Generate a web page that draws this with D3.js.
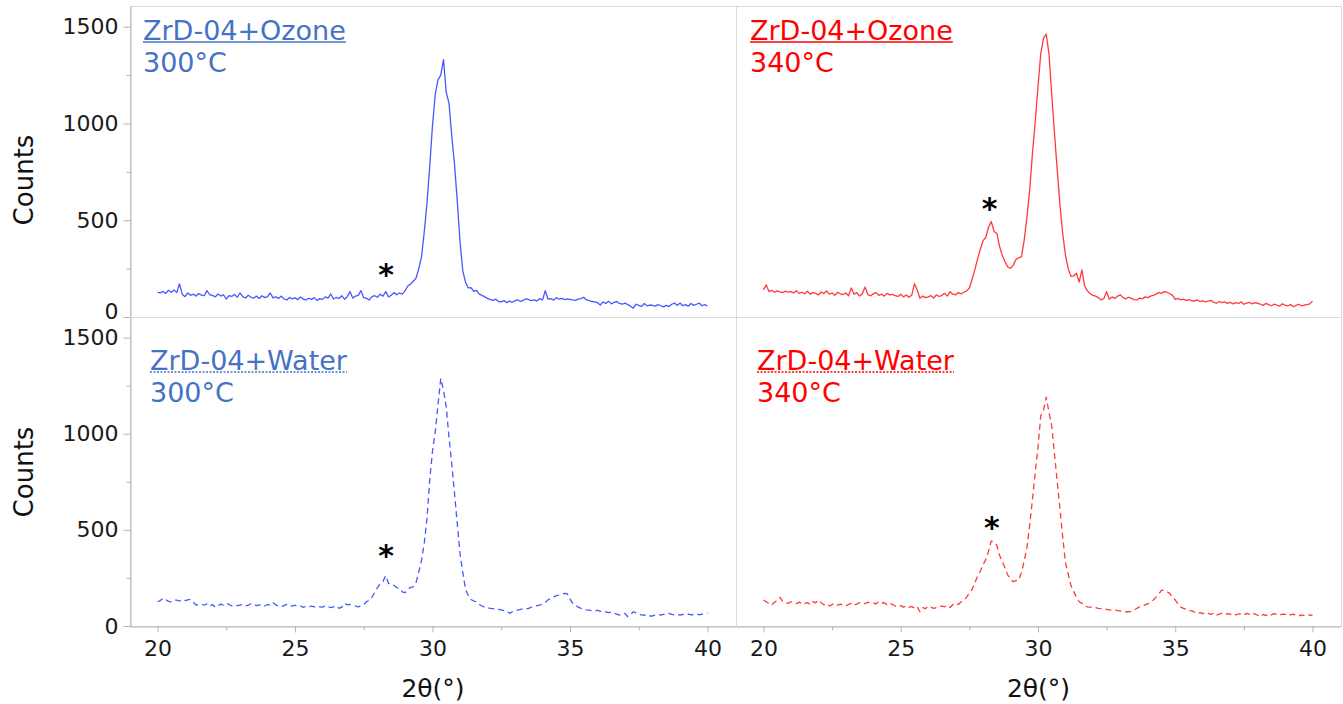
<!DOCTYPE html>
<html>
<head>
<meta charset="utf-8">
<script src="https://cdn.jsdelivr.net/npm/d3@7"></script>
<style>
  body { margin: 0; background: #fff; }
  svg { display: block; font-family: "DejaVu Sans", Verdana, sans-serif; }
  .axis path, .axis line { stroke: #b4b4b4; }
  .axis text { fill: #1a1a1a; font-size: 22px; font-family: "DejaVu Sans", Verdana, sans-serif; }
</style>
</head>
<body>
<script>
'use strict';

// 2θ grid: 20.0 ... 40.0, 0.1° step
const startAngle = 20;
const stepAngle = 0.1;

// counts, one value per 0.1°
const ozone300 = [
  129,125,132,122,138,128,140,126,171,118,
  105,124,112,118,108,121,113,110,136,115,
  112,104,119,108,115,93,110,106,117,102,
  124,105,98,112,102,98,108,96,110,100,
  105,124,99,104,96,108,93,88,101,94,
  99,90,103,92,88,97,91,100,86,95,
  91,104,98,119,93,101,96,110,92,105,
  131,98,108,112,136,100,96,88,105,110,
  102,118,108,131,103,112,126,115,124,118,
  135,160,170,185,200,250,310,440,590,780,
  990,1150,1225,1250,1330,1160,1105,935,790,600,
  390,240,180,150,152,132,138,118,112,104,
  96,90,86,92,80,78,85,74,82,76,
  84,88,80,86,94,90,84,88,83,95,
  88,136,92,95,88,100,92,96,90,94,
  91,88,86,92,95,102,88,84,80,78,
  74,62,78,70,82,68,76,80,70,66,
  72,64,56,46,66,60,55,70,58,62,
  60,56,64,58,52,60,54,66,72,60,
  72,58,64,56,70,60,66,72,58,64,
  57
];

const ozone340 = [
  140,166,132,138,128,135,130,126,134,128,
  131,124,136,122,128,120,133,118,126,122,
  114,129,121,135,118,124,112,128,120,116,
  124,110,150,118,126,108,120,155,116,109,
  120,126,112,118,108,122,114,117,110,106,
  118,104,114,102,112,172,140,97,108,100,
  104,110,98,114,106,112,122,108,131,118,
  115,126,120,128,135,150,195,245,300,350,
  395,412,465,493,441,433,365,318,285,258,
  252,268,298,306,312,400,520,660,850,1010,
  1190,1360,1440,1462,1360,1150,950,760,580,430,
  320,250,210,212,226,180,243,160,135,120,
  112,108,100,88,96,131,92,104,96,108,
  114,100,94,102,96,90,88,98,94,104,
  100,108,112,118,126,122,131,128,120,112,
  91,96,88,92,86,90,84,82,88,80,
  84,78,82,86,76,71,80,74,78,70,
  76,68,74,70,78,66,72,76,68,74,
  71,66,60,70,64,58,66,62,56,68,
  62,58,64,53,60,66,58,62,64,68,
  82
];

const water300 = [
  126,132,144,138,128,126,134,135,130,137,
  132,136,138,124,109,112,114,108,116,104,
  112,97,106,114,108,118,112,104,110,106,
  109,112,104,108,116,114,106,110,104,104,
  112,108,121,110,104,100,106,112,102,104,
  108,100,104,97,102,98,104,100,96,100,
  98,104,100,96,100,104,92,98,118,110,
  112,109,104,100,104,112,126,134,150,175,
  200,221,232,262,222,215,211,200,196,178,
  173,190,201,203,225,280,340,430,560,760,
  910,1010,1150,1288,1225,1140,980,844,690,533,
  377,280,190,160,138,130,126,112,104,97,
  95,92,90,88,87,84,80,76,66,74,
  80,83,86,90,88,92,98,102,106,109,
  115,122,136,144,150,158,161,165,170,168,
  140,118,108,98,92,88,84,83,80,78,
  82,76,78,74,70,72,66,62,57,60,
  66,48,58,74,68,62,58,56,60,52,
  52,58,62,56,60,64,66,60,58,62,
  56,60,57,62,58,60,64,58,62,66,
  66
];

const water340 = [
  135,126,118,109,124,132,149,128,121,118,
  126,120,116,124,114,118,122,112,128,120,
  135,122,110,116,104,112,118,108,114,106,
  104,112,118,108,114,122,121,116,124,118,
  120,114,126,118,121,110,118,112,104,100,
  106,98,104,97,102,92,100,74,96,90,
  104,98,92,96,100,104,100,108,96,112,
  118,112,126,135,150,172,190,225,260,285,
  320,345,390,443,436,420,368,335,300,265,
  245,230,236,239,280,340,410,530,660,800,
  930,1095,1121,1190,1112,1040,896,750,610,463,
  330,270,210,180,150,126,118,104,100,98,
  97,95,92,90,87,86,84,82,83,80,
  78,76,74,74,76,82,92,100,104,110,
  116,124,135,150,166,187,182,178,170,150,
  135,115,98,92,86,80,79,72,66,70,
  64,72,66,60,68,57,62,66,58,64,
  60,66,58,62,64,58,66,60,69,62,
  56,48,60,54,62,58,64,60,56,62,
  60,66,58,62,54,52,58,54,60,56,
  57
];

// panel order: top-left, top-right, bottom-left, bottom-right
const panelSeries = [ozone300, ozone340, water300, water340];
const panelNames = ['ZrD-04+Ozone', 'ZrD-04+Ozone', 'ZrD-04+Water', 'ZrD-04+Water'];
const panelTemps = ['300°C', '340°C', '300°C', '340°C'];
const starAngles = [28.31, 28.24, 28.31, 28.32];
const starCounts = [253, 596, 403, 546];

const yTicks = [0, 500, 1000, 1500];
const yMinorTicks = [250, 750, 1250];
const xTicks = [20, 25, 30, 35, 40];
const xMinorTicks = [22.5, 27.5, 32.5, 37.5];

// layout
const W = 1343, H = 704;
const colX = [[130, 736], [736, 1341]];
const rowY = [[6, 317], [317, 626]];
const xDomain = [19, 41];
const yDomain = [0, 1607];
const lineColors = ['#4858ff', '#ff3a3a'];
const textColors = ['#4472c4', '#ff0000'];
const labelDx = [[13, 14], [20, 21]];
const labelBase = [34, 53];

const svg = d3.select('body').append('svg')
  .attr('width', W)
  .attr('height', H);

panelSeries.forEach((series, i) => {
  const row = i < 2 ? 0 : 1;
  const col = i % 2;
  const [x0, x1] = colX[col];
  const [y0, y1] = rowY[row];

  const x = d3.scaleLinear().domain(xDomain).range([x0, x1 - 1]);
  const y = d3.scaleLinear().domain(yDomain).range([y1, y0]);

  // panel frame
  svg.append('rect')
    .attr('x', x0 + 0.5)
    .attr('y', y0 + 0.5)
    .attr('width', x1 - x0)
    .attr('height', y1 - y0)
    .attr('fill', 'none')
    .attr('stroke', '#dadada');

  const line = d3.line()
    .x((d, k) => x(startAngle + k * stepAngle))
    .y(d => y(d));

  svg.append('path')
    .datum(series)
    .attr('d', line)
    .attr('fill', 'none')
    .attr('stroke', lineColors[col])
    .attr('stroke-width', 1.3)
    .attr('stroke-linejoin', 'round')
    .attr('stroke-dasharray', row === 1 ? '6,4' : null);

  // left axis only on left column
  if (col === 0) {
    const yAxis = svg.append('g')
      .attr('class', 'axis')
      .attr('transform', `translate(${x0 + 0.5},0)`)
      .call(d3.axisLeft(y).tickValues(yTicks).tickFormat(d3.format('d'))
        .tickSize(7).tickSizeOuter(0).tickPadding(5));
    // top panel's "0" sits a little high so it clears the "1500" below
    if (row === 0) {
      yAxis.selectAll('.tick text').filter(d => d === 0).attr('y', -6);
    }
    svg.append('g')
      .attr('class', 'axis')
      .attr('transform', `translate(${x0 + 0.5},0)`)
      .call(d3.axisLeft(y).tickValues(yMinorTicks).tickSize(4).tickFormat('').tickSizeOuter(0))
      .select('.domain').remove();

    svg.append('text')
      .attr('transform', `translate(33,${row === 0 ? 180 : 472}) rotate(-90)`)
      .attr('text-anchor', 'middle')
      .attr('font-size', 26)
      .attr('fill', '#111')
      .text('Counts');
  }

  // bottom axis only on bottom row
  if (row === 1) {
    svg.append('g')
      .attr('class', 'axis')
      .attr('transform', `translate(0,${y1 + 0.5})`)
      .call(d3.axisBottom(x).tickValues(xTicks).tickFormat(d3.format('d'))
        .tickSize(6).tickSizeOuter(0).tickPadding(8));
    svg.append('g')
      .attr('class', 'axis')
      .attr('transform', `translate(0,${y1 + 0.5})`)
      .call(d3.axisBottom(x).tickValues(xMinorTicks).tickSize(4).tickFormat('').tickSizeOuter(0))
      .select('.domain').remove();

    svg.append('text')
      .attr('x', (x0 + x1) / 2)
      .attr('y', 697)
      .attr('text-anchor', 'middle')
      .attr('font-size', 25)
      .attr('fill', '#111')
      .text('2θ(°)');
  }

  // sample label, underlined
  const lx = x0 + labelDx[row][col];
  const ly = y0 + labelBase[row];
  const name = svg.append('text')
    .attr('x', lx)
    .attr('y', ly)
    .attr('font-size', 27)
    .attr('fill', textColors[col])
    .text(panelNames[i]);
  const len = name.node().getComputedTextLength();
  svg.append('line')
    .attr('x1', lx)
    .attr('x2', lx + len)
    .attr('y1', ly + 2)
    .attr('y2', ly + 2)
    .attr('stroke', textColors[col])
    .attr('stroke-width', 1.5)
    .attr('stroke-dasharray', row === 1 ? '2,1.5' : null);

  svg.append('text')
    .attr('x', lx)
    .attr('y', ly + 32)
    .attr('font-size', 27)
    .attr('fill', textColors[col])
    .text(panelTemps[i]);

  // asterisk marking the minor phase peak
  svg.append('text')
    .attr('x', x(starAngles[i]))
    .attr('y', y(starCounts[i]) + 17)
    .attr('text-anchor', 'middle')
    .attr('font-size', 30)
    .attr('font-weight', 'bold')
    .attr('fill', '#000')
    .text('*');
});
</script>
</body>
</html>
